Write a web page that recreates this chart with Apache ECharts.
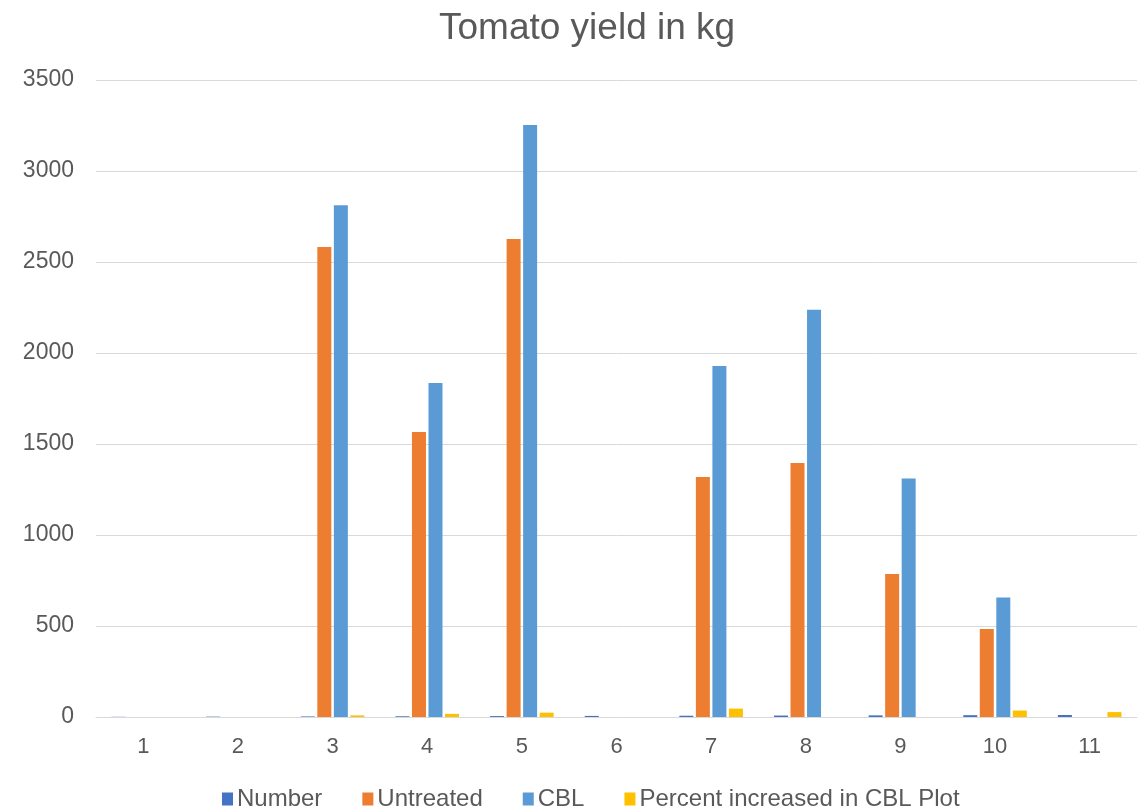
<!DOCTYPE html>
<html><head><meta charset="utf-8">
<script src="https://cdn.jsdelivr.net/npm/echarts@6/dist/echarts.min.js"></script>
<style>html,body{margin:0;padding:0;background:#fff}#c{width:1141px;height:808px}</style>
</head><body><div id="c"></div>
<script>
const categories = ['1','2','3','4','5','6','7','8','9','10','11'];
const numberVals = [1,2,3,4,5,6,7,8,9,10,11];
const untreated = [0,0,2582,1566,2626,0,1319,1396,786,484,0];
const cbl = [0,0,2812,1835,3253,0,1929,2238,1310,656,0];
const percent = [0,0,8.9,17.2,23.9,0,46.2,0,0,35.5,27];
const yTicks = [0,500,1000,1500,2000,2500,3000,3500];

const chart = echarts.init(document.getElementById('c'));
const txt = '#595959';
const ff = 'Liberation Sans';
chart.setOption({
  animation:false,
  title:{text:'Tomato yield in kg',left:434,top:5,textStyle:{color:txt,fontSize:37,fontWeight:'normal',fontFamily:ff}},
  grid:{left:96,right:4,top:80,bottom:91},
  legend:{left:217,top:782,itemWidth:11,itemHeight:13,itemGap:40,icon:'rect',
    textStyle:{color:txt,fontSize:24,fontFamily:ff,padding:[0,0,0,-1]}},
  xAxis:{type:'category',data:categories,
    axisLine:{lineStyle:{color:'#d9d9d9',width:1}},axisTick:{show:false},
    axisLabel:{color:txt,fontSize:22,fontFamily:ff,margin:19}},
  yAxis:{type:'value',min:yTicks[0],max:yTicks[yTicks.length-1],interval:500,
    axisLine:{show:false},axisTick:{show:false},
    splitLine:{lineStyle:{color:'#d9d9d9'}},
    axisLabel:{color:txt,fontSize:23,fontFamily:ff,margin:22,formatter:v=>String(v)}},
  series:[
    {name:'Number',type:'bar',data:numberVals,itemStyle:{color:'#4472C4'},barWidth:14,barGap:'18%',barCategoryGap:'33%'},
    {name:'Untreated',type:'bar',data:untreated,itemStyle:{color:'#ED7D31'},barWidth:14},
    {name:'CBL',type:'bar',data:cbl,itemStyle:{color:'#5B9BD5'},barWidth:14},
    {name:'Percent increased in CBL Plot',type:'bar',data:percent,itemStyle:{color:'#FFC000'},barWidth:14}
  ]
});
</script></body></html>
